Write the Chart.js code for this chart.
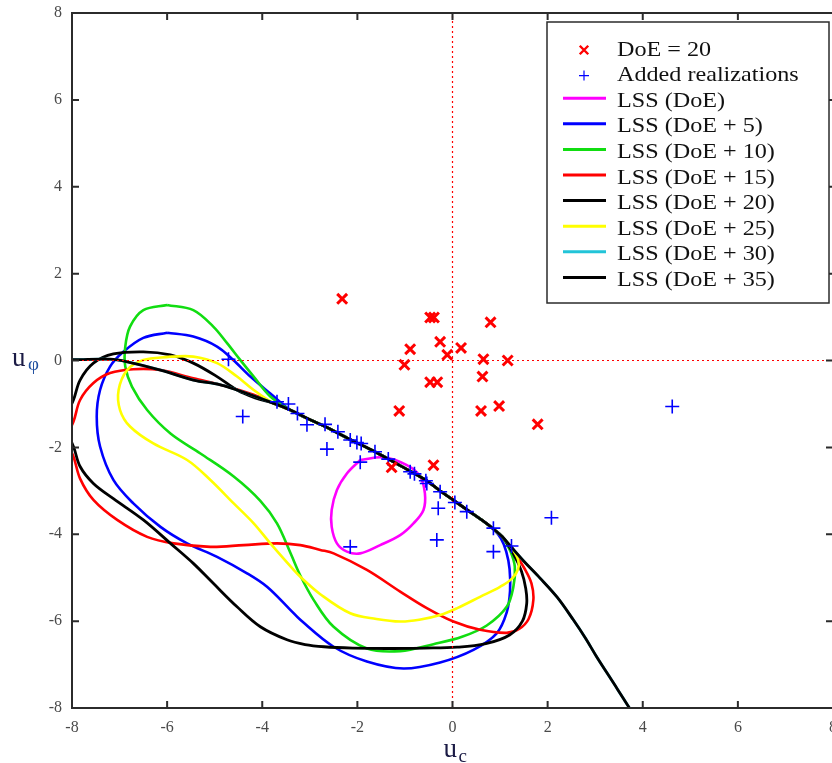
<!DOCTYPE html>
<html lang="en">
<head>
  <meta charset="UTF-8" />
  <title>LSS refinement</title>
  <script src="https://cdn.jsdelivr.net/npm/chart.js"></script>
  <style>
    * {
      margin: 0;
      padding: 0;
      box-sizing: border-box;
    }

    body {
      background: #fff;
      overflow: hidden;
    }

    canvas {
      display: block;
    }
  </style>
</head>
<body>

  <canvas id="lssChart" width="843" height="763"></canvas>

  <script>
    const tickValues = [-8, -6, -4, -2, 0, 2, 4, 6, 8];

    // initial design of experiments (20 samples)
    const doePoints = [
      [-0.47, 0.99], [-0.39, 0.99], [0.80, 0.88], [-0.26, 0.43], [-0.89, 0.26],
      [0.18, 0.29], [-0.11, 0.13], [-1.01, -0.10], [0.65, 0.03], [1.16, 0.00],
      [-0.47, -0.50], [-0.32, -0.50], [0.63, -0.37], [-1.12, -1.16], [0.60, -1.16],
      [0.98, -1.05], [1.79, -1.47], [-0.40, -2.41], [-1.28, -2.46], [-2.32, 1.42]
    ];

    // realizations added during the enrichment
    const addedPoints = [
      [-4.71, 0.03], [-4.41, -1.29], [-3.69, -0.95], [-3.45, -1.00], [-3.26, -1.22],
      [-3.06, -1.48], [-2.68, -1.47], [-2.41, -1.64], [-2.64, -2.04], [-2.15, -1.83],
      [-2.01, -1.89], [-1.92, -1.91], [-1.63, -2.10], [-1.35, -2.27], [-1.94, -2.34],
      [-0.89, -2.56], [-0.80, -2.61], [-0.56, -2.77], [-0.54, -2.83], [-0.26, -3.02],
      [0.05, -3.27], [0.30, -3.48], [-0.30, -3.40], [-0.33, -4.13], [-2.15, -4.29],
      [0.86, -3.86], [0.86, -4.40], [1.24, -4.27], [2.08, -3.62], [4.62, -1.06]
    ];

    // upper boundary shared by the refined surfaces
    const ridge = [
      [-3.77, -0.98], [-3.41, -1.14], [-3.08, -1.32], [-2.68, -1.52], [-2.15, -1.82],
      [-1.63, -2.10], [-1.10, -2.42], [-0.58, -2.74], [-0.26, -3.00], [0.05, -3.24],
      [0.35, -3.47], [0.65, -3.70], [0.86, -3.88], [1.05, -4.06]
    ];

    const lssDoE = [
      [-1.94, -2.29], [-1.45, -2.23], [-0.96, -2.41], [-0.68, -2.67], [-0.58, -3.06],
      [-0.61, -3.44], [-0.82, -3.75], [-1.10, -4.02], [-1.52, -4.25], [-1.94, -4.44],
      [-2.22, -4.40], [-2.43, -4.21], [-2.54, -3.83], [-2.54, -3.44], [-2.43, -2.98],
      [-2.22, -2.60], [-1.94, -2.29]
    ];

    const lss5 = [
      [-6.00, 0.64], [-5.45, 0.55], [-4.95, 0.32], [-4.61, 0.01], [-4.25, -0.37], [-3.83, -0.76],
      ...ridge.slice(1, 13),
      [1.02, -4.10], [1.13, -4.40], [1.20, -4.80], [1.21, -5.30], [1.14, -5.80], [0.93, -6.28],
      [0.44, -6.66], [-0.26, -6.95], [-1.03, -7.09], [-1.80, -6.93], [-2.50, -6.59], [-3.20, -5.97],
      [-3.41, -5.74], [-3.90, -5.21], [-4.32, -4.90], [-4.95, -4.52], [-5.58, -4.21], [-6.14, -3.83],
      [-6.71, -3.29], [-7.13, -2.75], [-7.41, -1.98], [-7.48, -1.29], [-7.41, -0.68], [-7.20, -0.14],
      [-6.92, 0.20], [-6.50, 0.52], [-6.00, 0.64]
    ];

    const lss10 = [
      [-6.00, 1.28], [-5.45, 1.16], [-5.03, 0.78], [-4.74, 0.40], [-4.46, 0.01], [-4.18, -0.37],
      [-3.83, -0.83],
      ...ridge.slice(1),
      [1.22, -4.40], [1.31, -4.75], [1.28, -5.21], [1.14, -5.67], [0.72, -6.10], [0.20, -6.36],
      [-0.40, -6.53], [-1.10, -6.69], [-1.80, -6.63], [-2.50, -6.13], [-2.92, -5.51], [-3.20, -4.95],
      [-3.40, -4.45], [-3.69, -3.75], [-4.04, -3.23], [-4.60, -2.67], [-5.30, -2.14], [-5.93, -1.68],
      [-6.42, -1.14], [-6.74, -0.60], [-6.88, -0.14], [-6.88, 0.32], [-6.78, 0.78], [-6.50, 1.16],
      [-6.00, 1.28]
    ];

    const lss15 = [
      [-8.15, -1.80], [-7.97, -1.41], [-7.83, -0.91], [-7.55, -0.52], [-7.20, -0.29], [-6.71, -0.20],
      [-6.14, -0.22], [-5.45, -0.41], [-4.74, -0.60], [-4.18, -0.79],
      ...ridge,
      [1.30, -4.42], [1.52, -4.80], [1.66, -5.13], [1.70, -5.51], [1.60, -5.95], [1.40, -6.18],
      [1.14, -6.27], [0.58, -6.20], [0.02, -6.01], [-0.54, -5.70], [-1.10, -5.32], [-1.80, -4.82],
      [-2.50, -4.44], [-2.78, -4.36], [-3.20, -4.25], [-3.69, -4.21], [-4.39, -4.25], [-5.09, -4.29],
      [-5.86, -4.21], [-6.42, -4.06], [-7.05, -3.67], [-7.55, -3.21], [-7.83, -2.72], [-7.97, -2.21],
      [-8.15, -1.80]
    ];

    const lss20 = [
      [-8.20, -1.45], [-7.97, -0.91], [-7.83, -0.45], [-7.55, -0.06], [-7.13, 0.15], [-6.50, 0.20],
      [-5.93, 0.13], [-5.45, -0.06], [-4.95, -0.37], [-4.53, -0.68], [-4.15, -0.86],
      ...ridge,
      [1.28, -4.45], [1.45, -4.85], [1.54, -5.25], [1.56, -5.60], [1.47, -6.00], [1.20, -6.32],
      [0.70, -6.52], [0.10, -6.60], [-0.60, -6.62], [-1.40, -6.63], [-2.10, -6.62], [-2.70, -6.59],
      [-3.10, -6.54], [-3.48, -6.43], [-4.04, -6.13], [-4.53, -5.67], [-5.03, -5.13], [-5.45, -4.67],
      [-5.93, -4.21], [-6.50, -3.67], [-7.13, -3.18], [-7.55, -2.83], [-7.83, -2.44], [-7.97, -1.98],
      [-8.20, -1.45]
    ];

    const lss25 = [
      [-5.93, 0.09], [-5.45, 0.09], [-4.95, -0.06], [-4.53, -0.37], [-4.18, -0.68],
      ...ridge,
      [1.25, -4.32], [1.38, -4.59], [1.38, -4.80], [1.25, -5.02], [1.00, -5.21], [0.58, -5.44],
      [0.10, -5.70], [-0.26, -5.86], [-0.70, -5.97], [-1.10, -6.01], [-1.60, -5.95], [-2.15, -5.82],
      [-2.78, -5.38], [-3.20, -4.98], [-3.34, -4.82], [-3.83, -4.21], [-4.18, -3.75], [-4.60, -3.29],
      [-5.09, -2.75], [-5.58, -2.29], [-6.29, -1.91], [-6.78, -1.52], [-6.99, -1.14], [-7.02, -0.68],
      [-6.84, -0.22], [-6.50, 0.01], [-5.93, 0.09]
    ];

    const lss35 = [
      [-8.50, 0.03], [-7.97, 0.02], [-7.20, 0.03], [-6.84, -0.03], [-6.14, -0.22], [-5.45, -0.45],
      [-4.88, -0.56], [-4.32, -0.76],
      ...ridge,
      [1.24, -4.30], [1.50, -4.62], [1.84, -5.01], [2.20, -5.45], [2.54, -5.97], [2.80, -6.40],
      [3.03, -6.82], [3.40, -7.45], [3.72, -8.00], [3.80, -8.15]
    ];

    // DoE + 30 lies under the DoE + 35 surface
    const lss30 = lss35;

    const axisZeroX = [[-8, 0], [8, 0]];
    const axisZeroY = [[0, -8], [0, 8]];

    const toXY = pts => pts.map(([x, y]) => ({ x, y }));

    function surface(label, pts, color, width, order) {
      return {
        label,
        data: toXY(pts),
        showLine: true,
        borderColor: color,
        backgroundColor: color,
        borderWidth: width,
        pointRadius: 0,
        tension: 0.35,
        order
      };
    }

    function crosshair(pts) {
      return {
        data: toXY(pts),
        showLine: true,
        borderColor: '#ff0000',
        borderWidth: 1.2,
        borderDash: [2, 3],
        pointRadius: 0,
        tension: 0,
        order: 1
      };
    }

    const serif = '"Liberation Serif", "Times New Roman", serif';

    // small marker glyphs used in the legend
    function drawMarker(ctx, style, x, y, r) {
      ctx.beginPath();
      if (style === 'crossRot') {
        const d = r * Math.SQRT1_2;
        ctx.moveTo(x - d, y - d); ctx.lineTo(x + d, y + d);
        ctx.moveTo(x - d, y + d); ctx.lineTo(x + d, y - d);
      } else {
        ctx.moveTo(x - r, y); ctx.lineTo(x + r, y);
        ctx.moveTo(x, y - r); ctx.lineTo(x, y + r);
      }
      ctx.stroke();
    }

    // box round the plot area, with inward tick marks on all four sides
    const frame = {
      id: 'frame',
      afterDatasetsDraw(chart) {
        const { ctx, chartArea: a, scales } = chart;
        ctx.save();
        ctx.strokeStyle = '#2b2b2b';
        ctx.lineWidth = 2;
        ctx.strokeRect(a.left, a.top, a.right - a.left, a.bottom - a.top);
        ctx.beginPath();
        tickValues.forEach(v => {
          const px = scales.x.getPixelForValue(v);
          const py = scales.y.getPixelForValue(v);
          ctx.moveTo(px, a.bottom); ctx.lineTo(px, a.bottom - 7);
          ctx.moveTo(px, a.top); ctx.lineTo(px, a.top + 7);
          ctx.moveTo(a.left, py); ctx.lineTo(a.left + 7, py);
          ctx.moveTo(a.right, py); ctx.lineTo(a.right - 7, py);
        });
        ctx.stroke();
        ctx.restore();
      }
    };

    const axisTitles = {
      id: 'axisTitles',
      afterDraw(chart) {
        const { ctx, chartArea: a, scales } = chart;
        const cx = scales.x.getPixelForValue(0);
        const cy = scales.y.getPixelForValue(0);
        ctx.save();
        ctx.fillStyle = '#1b1b45';
        ctx.textBaseline = 'alphabetic';
        ctx.textAlign = 'left';
        ctx.font = '27px ' + serif;
        ctx.fillText('u', cx - 9, a.bottom + 49);
        ctx.fillText('u', 12, cy + 5);
        ctx.font = '19px ' + serif;
        ctx.fillText('c', cx + 6, a.bottom + 54);
        ctx.fillStyle = '#1f4f9f';
        ctx.fillText('φ', 28, cy + 9);
        ctx.restore();
      }
    };

    // legend drawn inside the top right corner of the plot
    const legendBox = {
      id: 'legendBox',
      afterDraw(chart) {
        const { ctx, chartArea: a } = chart;
        const items = chart.data.datasets.filter(d => d.label);
        const left = a.right - 286, top = a.top + 9;
        ctx.save();
        ctx.fillStyle = '#fff';
        ctx.fillRect(left, top, 282, 281);
        ctx.strokeStyle = '#2b2b2b';
        ctx.lineWidth = 1.5;
        ctx.strokeRect(left, top, 282, 281);

        items.forEach((d, i) => {
          const y = top + 28 + i * 25.6;
          ctx.strokeStyle = d.borderColor;
          if (d.showLine) {
            ctx.lineWidth = 3;
            ctx.beginPath();
            ctx.moveTo(left + 16, y - 3);
            ctx.lineTo(left + 59, y - 3);
            ctx.stroke();
          } else {
            ctx.lineWidth = d.pointStyle === 'cross' ? 1.2 : 2.4;
            drawMarker(ctx, d.pointStyle, left + 37, y, d.pointStyle === 'cross' ? 5 : 6);
          }
          ctx.save();
          ctx.translate(left + 70, y);
          ctx.scale(1.15, 1);
          ctx.fillStyle = '#111';
          ctx.font = '21px ' + serif;
          ctx.textBaseline = 'middle';
          ctx.fillText(d.label, 0, 0);
          ctx.restore();
        });
        ctx.restore();
      }
    };

    const tickFont = { family: serif, size: 16 };

    new Chart(document.getElementById('lssChart'), {
      type: 'scatter',
      data: {
        datasets: [
          {
            label: 'DoE = 20',
            data: toXY(doePoints),
            pointStyle: 'crossRot',
            pointRadius: 7,
            pointBorderWidth: 3,
            borderColor: '#ff0000',
            backgroundColor: '#ff0000',
            order: 0
          },
          {
            label: 'Added realizations',
            data: toXY(addedPoints),
            pointStyle: 'cross',
            pointRadius: 7,
            pointBorderWidth: 1.6,
            borderColor: '#0000ff',
            backgroundColor: '#0000ff',
            order: 0
          },
          surface('LSS (DoE)', lssDoE, '#ff00ff', 2.6, 9),
          surface('LSS (DoE + 5)', lss5, '#0000ff', 2.6, 8),
          surface('LSS (DoE + 10)', lss10, '#11dd11', 2.6, 7),
          surface('LSS (DoE + 15)', lss15, '#ff0000', 2.6, 6),
          surface('LSS (DoE + 20)', lss20, '#000000', 2.8, 5),
          surface('LSS (DoE + 25)', lss25, '#ffff00', 2.6, 4),
          surface('LSS (DoE + 30)', lss30, '#22c4d8', 2.6, 3),
          surface('LSS (DoE + 35)', lss35, '#000000', 2.8, 2),
          crosshair(axisZeroX),
          crosshair(axisZeroY)
        ]
      },
      options: {
        responsive: false,
        animation: false,
        layout: { padding: { top: 13, right: 7, left: 0, bottom: 0 } },
        elements: { line: { capBezierPoints: false } },
        plugins: {
          legend: { display: false },
          tooltip: { enabled: false }
        },
        scales: {
          x: {
            type: 'linear',
            min: -8,
            max: 8,
            grid: { display: false, drawTicks: false },
            border: { display: false },
            ticks: { font: tickFont, color: '#4a4a4a', padding: 10, maxRotation: 0 },
            afterBuildTicks: s => { s.ticks = tickValues.map(v => ({ value: v })); },
            afterFit: s => {
              s.height = 55;
              s.paddingLeft = 0;
              s.paddingRight = 0;
            }
          },
          y: {
            type: 'linear',
            min: -8,
            max: 8,
            grid: { display: false, drawTicks: false },
            border: { display: false },
            ticks: { font: tickFont, color: '#4a4a4a', padding: 10 },
            afterBuildTicks: s => { s.ticks = tickValues.map(v => ({ value: v })); },
            afterFit: s => {
              s.width = 72;
              s.paddingTop = 0;
              s.paddingBottom = 0;
            }
          }
        }
      },
      plugins: [frame, legendBox, axisTitles]
    });
  </script>
</body>
</html>
